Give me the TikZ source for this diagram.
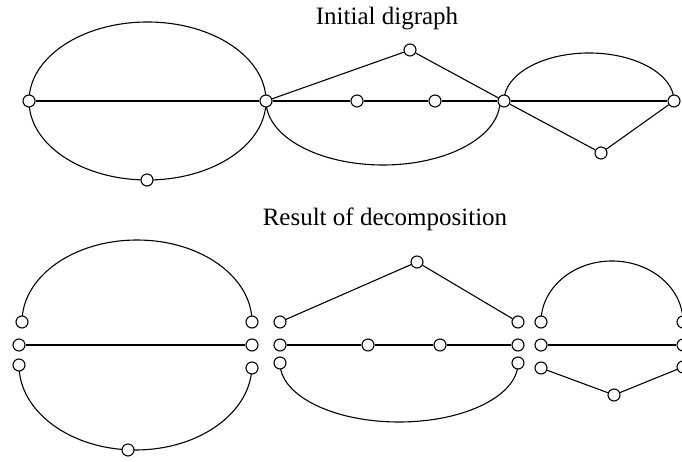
\documentclass[tikz,border=0pt]{standalone}
\usepackage{fontspec}
\setmainfont{Liberation Serif}
\usetikzlibrary{backgrounds}
\begin{document}
\begin{tikzpicture}[x=1pt,y=1pt,
  vtx/.style={circle,draw,fill=white,inner sep=0pt,minimum size=12pt,line width=1.1pt},
  edge/.style={line width=1.1pt},
  title/.style={anchor=base,font=\fontsize{25}{30}\selectfont,inner sep=0pt}]
\useasboundingbox (0,0) rectangle (682,462);

% titles
\node[title] (t1) at (387,437) {Initial digraph};
\node[title] (t2) at (385,236) {Result of decomposition};

% ---- initial digraph ----
\node[vtx] (A) at (29,361) {};
\node[vtx] (B) at (266,361) {};
\node[vtx] (C) at (357,361) {};
\node[vtx] (D) at (435,361) {};
\node[vtx] (E) at (410,412) {};
\node[vtx] (F) at (504,361) {};
\node[vtx] (G) at (674,361) {};
\node[vtx] (H) at (601,309) {};
\node[vtx] (I) at (147,282) {};

\draw[edge] (A) -- (B);
\draw[edge] (B) -- (C);
\draw[edge] (C) -- (D);
\draw[edge] (D) -- (F);
\draw[edge] (B) -- (E);
\draw[edge] (E) -- (F);
\draw[edge] (F) -- (G);
\draw[edge] (F) -- (H);
\draw[edge] (H) -- (G);

\begin{scope}[on background layer]
  \draw[edge] (A.center) arc[start angle=180,end angle=0,x radius=118.5,y radius=79];
  \draw[edge] (A.center) arc[start angle=180,end angle=360,x radius=118.5,y radius=79];
  \draw[edge] (B.center) arc[start angle=180,end angle=360,x radius=117,y radius=64];
  \draw[edge] (F.center) arc[start angle=180,end angle=0,x radius=85,y radius=48];
\end{scope}

% ---- decomposition: left part ----
\node[vtx] (L1) at (22,140) {};
\node[vtx] (L2) at (19,117) {};
\node[vtx] (L3) at (19,97) {};
\node[vtx] (R1) at (252,140) {};
\node[vtx] (R2) at (252,117) {};
\node[vtx] (R3) at (252,94) {};
\node[vtx] (LB) at (128,12) {};

\draw[edge] (L2) -- (R2);
\begin{scope}[on background layer]
  \draw[edge] (L1.center) arc[start angle=180,end angle=0,x radius=115,y radius=82];
  \draw[edge] (L3.center) arc[start angle=180,end angle=360,x radius=116.5,y radius=85];
\end{scope}

% ---- decomposition: middle part ----
\node[vtx] (M1) at (280,140) {};
\node[vtx] (M2) at (280,117) {};
\node[vtx] (M3) at (280,99) {};
\node[vtx] (N1) at (518,140) {};
\node[vtx] (N2) at (518,117) {};
\node[vtx] (N3) at (518,99) {};
\node[vtx] (MT) at (417,200) {};
\node[vtx] (MC) at (368,117) {};
\node[vtx] (MD) at (440,117) {};

\draw[edge] (M1) -- (MT);
\draw[edge] (MT) -- (N1);
\draw[edge] (M2) -- (MC);
\draw[edge] (MC) -- (MD);
\draw[edge] (MD) -- (N2);
\begin{scope}[on background layer]
  \draw[edge] (M3.center) arc[start angle=180,end angle=360,x radius=119,y radius=59];
\end{scope}

% ---- decomposition: right part ----
\node[vtx] (P1) at (541,140) {};
\node[vtx] (P2) at (541,117) {};
\node[vtx] (P3) at (541,94) {};
\node[vtx] (Q1) at (683,140) {};
\node[vtx] (Q2) at (683,117) {};
\node[vtx] (Q3) at (683,95) {};
\node[vtx] (PB) at (614,67) {};

\draw[edge] (P2) -- (Q2);
\draw[edge] (P3) -- (PB);
\draw[edge] (PB) -- (Q3);
\begin{scope}[on background layer]
  \draw[edge] (P1.center) arc[start angle=180,end angle=0,x radius=71,y radius=61];
\end{scope}
\end{tikzpicture}
\end{document}
